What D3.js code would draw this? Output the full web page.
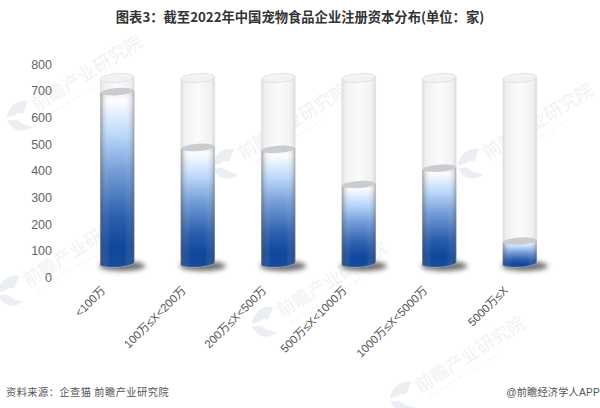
<!DOCTYPE html>
<html><head><meta charset="utf-8">
<script src="https://d3js.org/d3.v7.min.js"></script>
<style>html,body{margin:0;background:#fff}svg{display:block}</style>
</head><body><div id="c"></div>
<script>
const categories = ["<100万","100万≤X<200万","200万≤X<500万","500万≤X<1000万","1000万≤X<5000万","5000万≤X"];
const values = [644,435,428,296,357,84];
const tubeMax = 695;
const tickValues = [0,100,200,300,400,500,600,700,800];
const titleText = "图表3\uFF1A截至2022年中国宠物食品企业注册资本分布(单位\uFF1A家)";
const sourceText = "资料来源\uFF1A企查猫 前瞻产业研究院";
const creditText = "@前瞻经济学人APP";
const watermarkText = "前瞻产业研究院";
const watermarkSpots = [[37,112],[243,160],[488,160],[28,287],[282,318],[420,393]];

const W=600,H=408;
const svg=d3.select("#c").append("svg").attr("width",W).attr("height",H);
const defs=svg.append("defs");
const grad=defs.append("linearGradient").attr("id","fill").attr("x1",0).attr("y1",0).attr("x2",0).attr("y2",1);
[[0,"#eef3fb"],[.06,"#fbfdff"],[.25,"#bcd8fb"],[.45,"#769fd9"],[.72,"#2a5ead"],[.88,"#11479c"],[1,"#174c9a"]]
 .forEach(([o,c])=>grad.append("stop").attr("offset",o).attr("stop-color",c));
const edge=defs.append("linearGradient").attr("id","edge");
[[0,"#555",.55],[.1,"#777",.2],[.28,"#fff",0],[.72,"#fff",0],[.92,"#777",.2],[1,"#555",.5]]
 .forEach(([o,c,a])=>edge.append("stop").attr("offset",o).attr("stop-color",c).attr("stop-opacity",a));
const glass=defs.append("linearGradient").attr("id","glass");
[[0,"#dedede"],[.12,"#f1f1f1"],[.5,"#fbfbfb"],[.88,"#f1f1f1"],[1,"#dcdcdc"]]
 .forEach(([o,c])=>glass.append("stop").attr("offset",o).attr("stop-color",c));
defs.append("filter").attr("id","blur").attr("x","-50%").attr("y","-100%").attr("width","200%").attr("height","300%")
 .append("feGaussianBlur").attr("stdDeviation",2.6);

const y=d3.scaleLinear().domain([0,800]).range([277.5,64]);
const x=d3.scaleBand().domain(categories).range([77,560]).paddingInner(0).paddingOuter(0);

// watermarks
const wm=svg.append("g");
watermarkSpots.forEach(([wx,wy])=>{
  const g=wm.append("g").attr("transform",`translate(${wx},${wy}) rotate(-32)`);
  g.append("text").attr("font-family","'Noto Sans CJK SC'").attr("font-size",18).attr("fill","#f0f2f5").text(watermarkText);
  g.append("text").attr("y",10).attr("x",4).attr("font-family","Liberation Sans").attr("font-size",5).attr("letter-spacing",2).attr("fill","#f3f4f6").text("QIANZHAN INDUSTRY");
  g.append("path").attr("transform","translate(-26,-6) scale(1.35)").attr("fill","#ebeef2")
   .attr("d","M-2,-4 Q8,-14 18,-6 L10,0 Q6,-4 4,-2 Z M-3,-2 L3,1 Q6,8 11,12 Q-4,12 -3,-2 Z");
});

// axis
const axis=d3.axisLeft(y).tickValues(tickValues).tickSize(0).tickPadding(0);
const ax=svg.append("g").attr("transform","translate(52,0)").call(axis);
ax.select(".domain").remove();
ax.selectAll("text").attr("font-family","Liberation Sans").attr("font-size",12.5).attr("fill","#666").attr("text-anchor","end");

// cylinder geometry: the plot floor sits above the axis zero by the chart's 3-D depth
const floorOffset=13, rx=17, ry=3.6, tilt=-4;
const yy=v=>y(v)-floorOffset;
const side=(top,bot)=>`M${-rx},${top} L${-rx},${bot} A${rx},${ry} ${tilt} 0 0 ${rx},${bot-2} L${rx},${top-2} Z`;
const cyl=svg.append("g").selectAll("g").data(categories.map((c,i)=>({c,v:values[i]}))).join("g")
  .attr("transform",d=>`translate(${x(d.c)+x.bandwidth()/2},0)`);

cyl.append("ellipse").attr("cx",5).attr("cy",yy(0)+1.5).attr("rx",rx+6).attr("ry",5).attr("fill","#333").attr("opacity",.7).attr("filter","url(#blur)");
cyl.append("path").attr("d",side(yy(tubeMax),yy(0))).attr("fill","url(#glass)");
cyl.append("path").attr("d",d=>side(yy(d.v),yy(0))).attr("fill","url(#fill)");
cyl.append("path").attr("d",d=>side(yy(d.v),yy(0))).attr("fill","url(#edge)");
cyl.append("ellipse").attr("cy",d=>yy(d.v)-1).attr("rx",rx-.3).attr("ry",ry)
   .attr("transform",d=>`rotate(${tilt} 0 ${yy(d.v)-1})`).attr("fill","#cacccf");
cyl.append("path").attr("d",side(yy(tubeMax),yy(0))).attr("fill","none").attr("stroke","#dcdcdc").attr("stroke-opacity",.5).attr("stroke-width",.6);
cyl.append("ellipse").attr("cy",yy(tubeMax)-1).attr("rx",rx).attr("ry",ry+.8)
   .attr("transform",`rotate(${tilt} 0 ${yy(tubeMax)-1})`).attr("fill","#f0f0f0").attr("fill-opacity",.75).attr("stroke","#dedede").attr("stroke-width",.8);

// category labels
svg.append("g").selectAll("text").data(categories).join("text")
  .attr("transform",d=>`translate(${x(d)+x.bandwidth()/2-11},291) rotate(-45)`)
  .attr("text-anchor","end").attr("font-family","Liberation Sans, 'Noto Sans CJK SC'").attr("font-size",11.5).attr("fill","#555").text(d=>d);

svg.append("text").attr("x",300).attr("y",22).attr("text-anchor","middle").attr("font-family","'Noto Sans CJK SC'").attr("font-weight",700)
  .attr("font-size",13.3).attr("fill","#333").text(titleText);
svg.append("text").attr("x",6).attr("y",396).attr("font-family","'Noto Sans CJK SC'").attr("font-size",10.2).attr("letter-spacing",.5).attr("fill","#555").text(sourceText);
svg.append("text").attr("x",600).attr("y",396).attr("text-anchor","end").attr("font-family","Liberation Sans,'Noto Sans CJK SC'").attr("font-size",10.2).attr("letter-spacing",.2).attr("fill","#555").text(creditText);
</script></body></html>
